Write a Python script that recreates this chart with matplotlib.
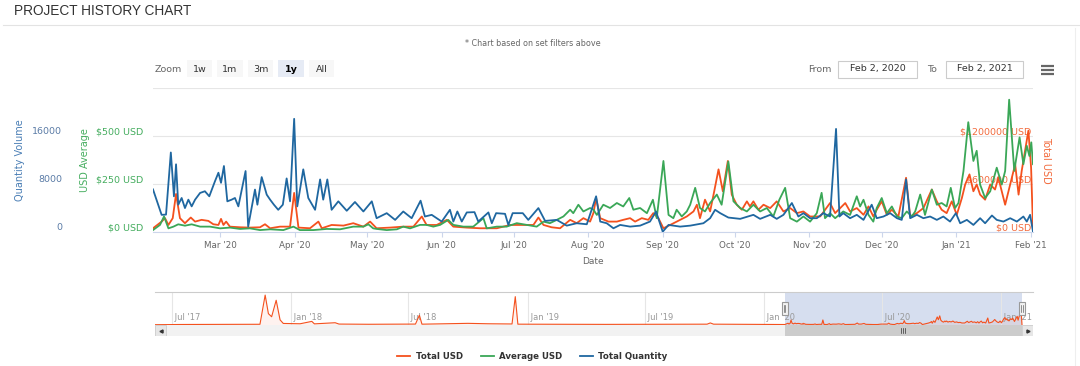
import numpy as np
import matplotlib
matplotlib.use("Agg")
import matplotlib.pyplot as plt
import matplotlib.dates as mdates
from matplotlib.patches import Rectangle

plt.rcParams['font.family'] = ['DejaVu Sans']

RED = '#f4511e'
GREEN = '#3aa757'
BLUE = '#1f67a0'

#---------- data (days since 2020-02-02) ----------
range_start = np.datetime64('2020-02-02')
range_end = np.datetime64('2021-02-02')

qty_days = [0, 3.6, 5.4, 7.4, 8.7, 9.6, 10.5, 11.9, 13.3, 14.7,
            16.1, 17.5, 19.6, 21.6, 23.4, 25.8, 27.2, 28.3, 29.5, 30.9,
            32.7, 34.1, 35.5, 38.5, 39.6, 42.4, 43.4, 45.2, 47.3, 48.7,
            50.3, 52.1, 54.0, 55.6, 57.0, 58.7, 60.0, 62.5, 64.6, 67.4,
            69.5, 70.8, 72.5, 74.3, 77.1, 80.6, 84.0, 87.5, 91.0, 93.0,
            97.2, 100.7, 104.1, 107.6, 111.3, 113.1, 115.9, 120.1, 123.5, 124.9,
            126.6, 128.4, 130.5, 133.7, 135.3, 139.5, 140.9, 142.7, 146.4, 147.8,
            149.6, 153.8, 156.1, 160.3, 163.1, 167.9, 172.1, 176.2, 180.4, 184.3,
            186.0, 188.7, 191.5, 194.3, 198.4, 202.6, 206.7, 209.2, 212.0, 214.4,
            219.2, 223.4, 228.9, 231.7, 233.8, 235.9, 239.3, 244.2, 249.7, 252.5,
            256.7, 259.4, 262.2, 265.7, 268.4, 270.5, 273.3, 276.1, 278.8, 281.6,
            284.1, 285.5, 287.1, 289.9, 292.7, 295.5, 298.9, 301.0, 303.8, 306.6,
            309.4, 311.4, 313.2, 314.9, 317.7, 320.4, 323.2, 326.0, 328.7, 331.5,
            333.9, 335.7, 338.5, 341.2, 344.0, 346.1, 348.9, 350.9, 353.7, 356.5,
            359.3, 362.0, 363.4, 364.8, 366.0]
total_quantity = [7100, 2860, 2900, 13250, 5950, 11280, 4550, 5670, 3990, 5390,
                  4270, 5390, 6510, 6790, 5950, 8480, 9880, 8200, 11000, 5110,
                  5390, 5670, 4270, 10160, 900, 7070, 4550, 9150, 6230, 5390,
                  4550, 3700, 4550, 8930, 5110, 18860, 4270, 10440, 5670, 3700,
                  8760, 5390, 8760, 3700, 5110, 3540, 5000, 3420, 5110, 2300,
                  3140, 2020, 3420, 2300, 5220, 2580, 2860, 1740, 3700, 1740,
                  3420, 1740, 3260, 3310, 1740, 3260, 1460, 3140, 3030, 1180,
                  3140, 3140, 2020, 3990, 1850, 2020, 1060, 1460, 1290, 5950,
                  1740, 1460, 620, 1180, 900, 1060, 1740, 3420, 50, 1180,
                  900, 1060, 1460, 2300, 3700, 3140, 2410, 2190, 2860, 2190,
                  2860, 2190, 2860, 4830, 2580, 3140, 2300, 2300, 3140, 2580,
                  17180, 2580, 3140, 2300, 2860, 2020, 4550, 2300, 2580, 3140,
                  2300, 2020, 8760, 2300, 2860, 2300, 2580, 2020, 2580, 1740,
                  3140, 1460, 2020, 1180, 2300, 1460, 2750, 2020, 1740, 2300,
                  1740, 2580, 1740, 2860, 50]

total_days = [0, 3.6, 5.0, 6.4, 8.2, 9.6, 11.2, 13.3, 15.7, 17.5,
              20.2, 23.0, 25.1, 27.2, 28.3, 29.3, 30.4, 32.0, 36.2, 40.3,
              44.5, 46.6, 48.7, 52.8, 57.0, 58.7, 60.5, 65.3, 68.8, 70.2,
              74.3, 79.2, 83.3, 87.5, 90.3, 93.0, 98.6, 104.1, 108.3, 111.8,
              113.8, 118.0, 122.2, 124.9, 130.5, 136.0, 143.0, 148.5, 154.0, 158.2,
              160.3, 162.4, 165.8, 169.3, 173.5, 176.2, 179.0, 181.8, 183.2, 184.3,
              186.0, 189.4, 192.9, 195.6, 198.4, 200.5, 203.3, 206.0, 208.1, 210.2,
              212.3, 215.1, 217.8, 222.0, 224.8, 226.2, 227.5, 229.6, 231.7, 233.4,
              235.2, 237.0, 239.1, 240.7, 242.8, 244.9, 247.0, 248.3, 249.7, 251.8,
              253.9, 256.7, 259.4, 262.2, 265.0, 267.8, 270.5, 273.3, 277.5, 281.6,
              283.7, 287.9, 289.9, 292.7, 295.5, 297.6, 299.6, 301.0, 303.1, 305.2,
              307.3, 310.0, 313.2, 314.9, 317.7, 320.4, 323.9, 326.0, 328.0, 330.1,
              332.2, 334.3, 336.4, 337.8, 339.6, 341.2, 342.6, 344.0, 346.1, 348.2,
              350.2, 351.6, 354.4, 357.2, 358.6, 360.0, 361.3, 362.7, 364.1, 365.2,
              366.0]
total_usd = [46700, 130000, 173000, 88000, 173000, 476000, 173000, 110000, 181000, 130000,
             152000, 139000, 97000, 88000, 164000, 88000, 130000, 67000, 59000, 55000,
             59000, 97000, 46700, 67000, 67000, 489000, 55000, 46700, 130000, 46700,
             88000, 80000, 110000, 67000, 130000, 46700, 55000, 67000, 67000, 194000,
             88000, 88000, 152000, 67000, 55000, 46700, 46700, 88000, 88000, 88000,
             181000, 88000, 59000, 46700, 152000, 110000, 173000, 130000, 240000, 426000,
             173000, 130000, 130000, 152000, 173000, 130000, 173000, 152000, 236000, 173000,
             46700, 88000, 130000, 194000, 257000, 341000, 173000, 404000, 257000, 509000,
             783000, 509000, 888000, 467000, 341000, 278000, 383000, 320000, 383000, 278000,
             341000, 299000, 383000, 257000, 299000, 236000, 257000, 194000, 194000, 362000,
             236000, 362000, 257000, 299000, 215000, 320000, 194000, 278000, 383000, 215000,
             278000, 194000, 678000, 194000, 236000, 299000, 531000, 383000, 278000, 236000,
             383000, 215000, 425000, 594000, 720000, 509000, 594000, 467000, 404000, 594000,
             531000, 678000, 341000, 678000, 846000, 467000, 762000, 1015000, 1267000, 804000,
             46700]

avg_days = [0, 2.9, 4.6, 6.4, 8.5, 10.5, 13.3, 16.1, 19.6, 23.7,
            27.9, 32.0, 36.2, 40.3, 44.5, 48.7, 54.2, 58.4, 61.1, 66.7,
            72.3, 77.8, 83.3, 87.5, 89.6, 91.6, 93.0, 97.2, 101.4, 104.1,
            106.9, 111.1, 113.8, 116.6, 119.4, 122.8, 124.9, 129.1, 133.2, 137.4,
            138.8, 143.0, 147.1, 151.3, 155.4, 159.6, 162.4, 165.1, 167.9, 170.7,
            173.5, 174.8, 176.9, 179.0, 181.8, 183.2, 184.6, 187.3, 190.1, 192.9,
            195.6, 198.1, 199.8, 202.6, 205.4, 207.9, 209.5, 212.3, 214.4, 216.4,
            217.8, 219.9, 222.0, 223.4, 225.5, 227.5, 229.6, 231.7, 234.5, 236.5,
            239.3, 241.4, 244.2, 247.0, 249.7, 252.5, 255.3, 258.0, 260.5, 262.9,
            265.0, 267.8, 270.5, 273.3, 276.1, 278.1, 279.5, 281.6, 283.7, 287.1,
            289.9, 292.7, 294.1, 295.5, 297.6, 299.6, 301.0, 303.1, 305.2, 307.3,
            309.4, 311.4, 313.5, 315.6, 317.0, 319.1, 321.1, 323.9, 326.0, 328.0,
            330.1, 331.8, 333.6, 335.0, 337.1, 339.1, 341.2, 342.6, 344.0, 346.1,
            348.2, 350.9, 353.0, 354.4, 356.1, 358.2, 360.4, 362.0, 363.4, 364.5,
            365.3, 366.0]
avg_usd = [10, 37, 81, 19, 28, 40, 33, 40, 28, 28,
           19, 23, 16, 19, 10, 14, 10, 28, 10, 10,
           16, 14, 28, 28, 40, 19, 16, 10, 14, 28,
           19, 37, 37, 28, 37, 63, 37, 28, 28, 72,
           19, 28, 28, 46, 37, 28, 54, 46, 63, 81,
           116, 98, 142, 107, 125, 116, 89, 142, 125, 151,
           133, 177, 116, 125, 98, 168, 72, 370, 89, 72,
           116, 81, 107, 142, 230, 125, 107, 151, 195, 142,
           367, 160, 125, 107, 142, 107, 125, 81, 168, 230,
           72, 54, 81, 54, 98, 204, 72, 98, 72, 107,
           89, 186, 133, 168, 89, 54, 125, 177, 98, 133,
           81, 72, 107, 81, 107, 195, 89, 221, 142, 151,
           133, 230, 125, 151, 318, 572, 370, 423, 247, 177,
           212, 335, 247, 318, 689, 318, 493, 353, 449, 396,
           467, 353]

# navigator history of Total USD before the selected range
nav_hist_dates = ['2017-06-05', '2017-07-15', '2017-09-01', '2017-11-14', '2017-11-22',
                  '2017-11-27', '2017-12-02', '2017-12-09', '2017-12-15', '2017-12-20',
                  '2018-01-15', '2018-02-02', '2018-02-06', '2018-03-10', '2018-03-16',
                  '2018-05-01', '2018-07-12', '2018-07-18', '2018-07-22', '2018-09-01',
                  '2018-10-01', '2018-11-01', '2018-12-08', '2018-12-13', '2018-12-17',
                  '2019-02-01', '2019-05-01', '2019-10-05', '2019-10-10', '2019-10-15',
                  '2020-01-10']
nav_hist_usd = [30000, 50000, 60000, 70000, 2900000,
                1100000, 800000, 2400000, 500000, 150000,
                120000, 350000, 110000, 220000, 90000,
                70000, 90000, 950000, 80000, 130000,
                160000, 120000, 100000, 2750000, 80000,
                70000, 60000, 80000, 200000, 80000,
                60000]


def to_dates(days):
    return range_start + (np.array(days) * 24).round().astype(int).astype('timedelta64[h]')


#---------- figure ----------
W, H = 1080, 366
fig = plt.figure(figsize=(W / 100, H / 100), dpi=100)


def box(x0, y0, x1, y1):
    return [x0 / W, 1 - y1 / H, (x1 - x0) / W, (y1 - y0) / H]


# overlay in pixel coords for the page furniture
ov = fig.add_axes([0, 0, 1, 1], zorder=-1)
ov.set_xlim(0, W)
ov.set_ylim(H, 0)
ov.axis('off')

ov.text(14, 11, 'PROJECT HISTORY CHART', family='Liberation Sans', size=9.8,
        color='#333333', va='center')
ov.plot([3, W], [25, 25], color='#e3e3e3', lw=0.8)
ov.plot([1075, 1075], [28, H], color='#eeeeee', lw=0.8)
ov.text(533, 44, '* Chart based on set filters above', ha='center', va='center',
        size=5.8, color='#666666')

ov.text(155, 69, 'Zoom', size=6.8, color='#666666', va='center')
buttons = [('1w', 187, 212), ('1m', 217, 243), ('3m', 248, 273), ('1y', 278, 304), ('All', 309, 334)]
for lab, x0, x1 in buttons:
    sel = lab == '1y'
    ov.add_patch(Rectangle((x0, 60), x1 - x0, 17, fc='#e6ebf5' if sel else '#f7f7f7', ec='none'))
    ov.text((x0 + x1) / 2, 69, lab, ha='center', va='center', size=6.8,
            color='#000000' if sel else '#333333', weight='bold' if sel else 'normal')

ov.text(808, 69, 'From', size=6.8, color='#666666', va='center')
ov.add_patch(Rectangle((838, 60.5), 79, 17, fc='white', ec='#cccccc', lw=0.8))
ov.text(877.5, 69, 'Feb 2, 2020', ha='center', va='center', size=6.8, color='#333333')
ov.text(927, 69, 'To', size=6.8, color='#666666', va='center')
ov.add_patch(Rectangle((946, 60.5), 77, 17, fc='white', ec='#cccccc', lw=0.8))
ov.text(984.5, 69, 'Feb 2, 2021', ha='center', va='center', size=6.8, color='#333333')
for yy in (65.5, 69.5, 73.5):
    ov.plot([1041, 1054], [yy, yy], color='#666666', lw=1.6, solid_capstyle='butt')

#---------- main chart ----------
ax = fig.add_axes(box(153, 88, 1033, 232))
ax_avg = ax.twinx()
ax_qty = ax.twinx()

l_total, = ax.plot(to_dates(total_days), total_usd, color=RED, lw=1.3, label='Total USD')
l_avg, = ax_avg.plot(to_dates(avg_days), avg_usd, color=GREEN, lw=1.3, label='Average USD')
l_qty, = ax_qty.plot(to_dates(qty_days), total_quantity, color=BLUE, lw=1.3, label='Total Quantity')

ax.set_xlim(range_start, range_end)
ax.xaxis.set_major_locator(mdates.MonthLocator())
ax.xaxis.set_major_formatter(mdates.DateFormatter("%b '%y"))
ax.tick_params(axis='x', length=3.5, width=0.8, color='#ccd6eb', labelsize=6.3,
               labelcolor='#666666', pad=3)
ax.set_xlabel('Date', fontsize=6.5, color='#666666', labelpad=5)

for a in (ax, ax_avg, ax_qty):
    for s in a.spines.values():
        s.set_visible(False)
ax.spines['bottom'].set_visible(True)
ax.spines['bottom'].set_color('#ccd6eb')

# Total USD (right, labels inside)
ax.set_ylim(0, 1800000)
ax.set_yticks([0, 600000, 1200000, 1800000])
ax.set_yticklabels(['$0 USD', '$600000 USD', '$1200000 USD', ''])
ax.yaxis.tick_right()
ax.tick_params(axis='y', length=0, pad=-1, labelsize=6.8, labelcolor='#f26a3c')
for t in ax.get_yticklabels():
    t.set_ha('right')
    t.set_va('bottom')
ax.grid(axis='y', color='#e6e6e6', lw=0.8)
ax.yaxis.set_label_position('right')
ax.set_ylabel('Total USD', fontsize=7, color='#f26a3c', rotation=270)
ax.yaxis.label.set_va('bottom')
ax.yaxis.set_label_coords(1.009, 0.5)

# Average USD (left, inner)
ax_avg.set_ylim(0, 750)
ax_avg.set_yticks([0, 250, 500, 750])
ax_avg.set_yticklabels(['$0 USD', '$250 USD', '$500 USD', ''])
ax_avg.yaxis.tick_left()
ax_avg.tick_params(axis='y', length=0, pad=7.2, labelsize=6.8, labelcolor='#45ad5f')
for t in ax_avg.get_yticklabels():
    t.set_va('bottom')
ax_avg.yaxis.set_label_position('left')
ax_avg.set_ylabel('USD Average', fontsize=7, color='#45ad5f')
ax_avg.yaxis.set_label_coords(-0.0716, 0.5)

# Quantity (left, outer)
ax_qty.set_ylim(0, 24000)
ax_qty.set_yticks([0, 8000, 16000, 24000])
ax_qty.set_yticklabels(['0', '8000', '16000', ''])
ax_qty.yaxis.tick_left()
ax_qty.tick_params(axis='y', length=0, pad=65.5, labelsize=6.8, labelcolor='#5a7ba6')
for t in ax_qty.get_yticklabels():
    t.set_va('bottom')
ax_qty.yaxis.set_label_position('left')
ax_qty.set_ylabel('Quantity Volume', fontsize=7, color='#4a7eb5')
ax_qty.yaxis.set_label_coords(-0.1455, 0.5)

#---------- navigator ----------
nav = fig.add_axes(box(155, 292, 1033, 325))
nav_dates = np.concatenate([np.array(nav_hist_dates, dtype='datetime64[h]'), to_dates(total_days)])
nav_vals = np.concatenate([nav_hist_usd, total_usd])
nav.axvspan(range_start, range_end, color='#ccd6eb', alpha=0.8, lw=0, zorder=0.5)
nav.fill_between(nav_dates, nav_vals, 0, color=RED, alpha=0.07, lw=0, zorder=1)
nav.plot(nav_dates, nav_vals, color=RED, lw=0.8, zorder=2)
nav.set_xlim(np.datetime64('2017-06-05'), np.datetime64('2021-02-19'))
nav.set_ylim(0, 3200000)
nav.set_yticks([])
nav.xaxis.set_major_locator(mdates.MonthLocator(bymonth=(1, 7)))
nav.xaxis.set_major_formatter(mdates.DateFormatter(" %b '%y"))
nav.tick_params(axis='x', length=0, pad=-2, labelsize=6, labelcolor='#999999')
for t in nav.get_xticklabels():
    t.set_ha('left')
    t.set_va('bottom')
nav.grid(axis='x', color='#e6e6e6', lw=0.8)
for s in nav.spines.values():
    s.set_visible(False)
nav.spines['top'].set_visible(True)
nav.spines['top'].set_color('#cccccc')
nav.spines['top'].set_linewidth(0.8)

# selection handles
xt = nav.get_xaxis_transform()
for d in (range_start, range_end):
    nav.add_patch(Rectangle((d - np.timedelta64(5, 'D'), 0.3), np.timedelta64(10, 'D'), 0.4,
                            transform=xt, fc='#f2f2f2', ec='#999999', lw=0.8, zorder=5))
    for off in (-1, 1):
        nav.plot([d + np.timedelta64(off, 'D')] * 2, [0.4, 0.6], transform=xt,
                 color='#666666', lw=0.5, zorder=6)

#---------- scrollbar ----------
sb = fig.add_axes(box(155, 325, 1033, 336))
sb.set_xlim(nav.get_xlim())
sb.set_ylim(0, 1)
sb.axis('off')
sb.add_patch(Rectangle((0, 0), 1, 1, transform=sb.transAxes, fc='#f2f2f2', ec='none'))
sb.axvspan(range_start, range_end, color='#cccccc', lw=0)
bw = 11 / 878
for x0, mk in ((0, '<'), (1 - bw, '>')):
    sb.add_patch(Rectangle((x0, 0), bw, 1, transform=sb.transAxes, fc='#e6e6e6',
                           ec='#cccccc', lw=0.6))
    sb.plot([x0 + bw / 2], [0.5], marker=mk, ms=2.2, color='#333333', transform=sb.transAxes)
mid = range_start + np.timedelta64(183, 'D')
for off in (-3, 0, 3):
    sb.plot([mid + np.timedelta64(off, 'D')] * 2, [0.3, 0.7], color='#333333', lw=0.5)

#---------- legend ----------
fig.legend(handles=[l_total, l_avg, l_qty], loc='center', bbox_to_anchor=(532.5 / W, 1 - 356.5 / H),
           ncol=3, frameon=False, prop={'weight': 'bold', 'size': 6.2}, labelcolor='#333333',
           handlelength=1.5, handletextpad=0.6, columnspacing=2.1)

fig.savefig('out.png', dpi=100)
